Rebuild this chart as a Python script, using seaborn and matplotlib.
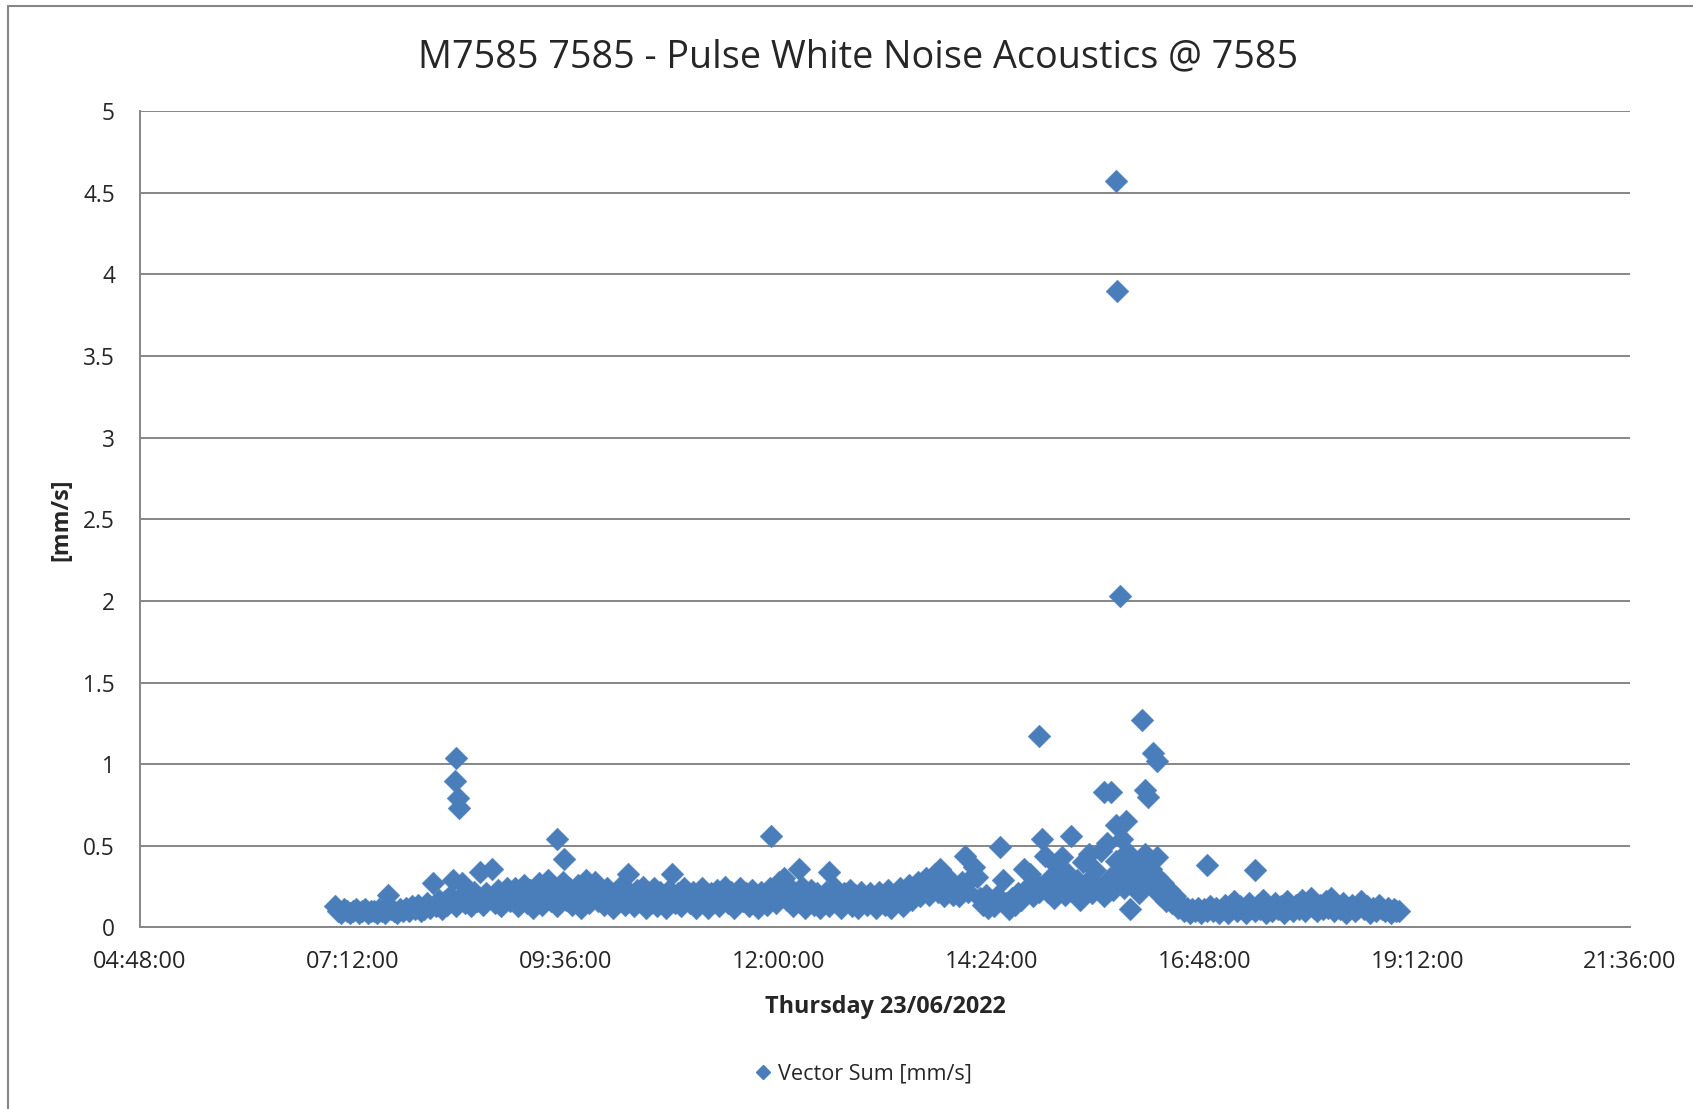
import matplotlib
matplotlib.use("Agg")
import matplotlib.pyplot as plt
import matplotlib.dates as mdates
from matplotlib.ticker import FixedLocator, MultipleLocator, FuncFormatter
from matplotlib.lines import Line2D
import seaborn as sns
import pandas as pd

DAY = "2022-06-23"

# logger readings every 2 minutes, 07:00 - 19:00 (one list per hour)
band_07 = [0.13, 0.10, 0.09, 0.11, 0.10, 0.09, 0.10, 0.11, 0.09, 0.10, 0.11, 0.09, 0.10, 0.10, 0.09,
           0.11, 0.10, 0.09, 0.20, 0.11, 0.10, 0.09, 0.11, 0.10, 0.12, 0.10, 0.13, 0.11, 0.14, 0.10]
band_08 = [0.11, 0.15, 0.12, 0.27, 0.13, 0.17, 0.11, 0.16, 0.14, 0.19, 0.29, 0.13, 0.18, 0.27, 0.15,
           0.20, 0.13, 0.22, 0.16, 0.34, 0.14, 0.21, 0.18, 0.36, 0.15, 0.23, 0.13, 0.19, 0.24, 0.16]
band_09 = [0.18, 0.24, 0.13, 0.21, 0.26, 0.15, 0.23, 0.12, 0.20, 0.27, 0.14, 0.22, 0.29, 0.16, 0.25,
           0.13, 0.21, 0.28, 0.17, 0.24, 0.14, 0.22, 0.26, 0.12, 0.20, 0.29, 0.15, 0.23, 0.28, 0.16]
band_10 = [0.21, 0.14, 0.24, 0.17, 0.12, 0.22, 0.16, 0.26, 0.14, 0.33, 0.20, 0.13, 0.23, 0.17, 0.25,
           0.12, 0.21, 0.15, 0.24, 0.13, 0.22, 0.17, 0.12, 0.23, 0.33, 0.15, 0.21, 0.13, 0.24, 0.17]
band_11 = [0.15, 0.22, 0.12, 0.20, 0.24, 0.16, 0.12, 0.21, 0.17, 0.23, 0.13, 0.20, 0.25, 0.15, 0.22,
           0.12, 0.19, 0.24, 0.16, 0.21, 0.13, 0.23, 0.17, 0.12, 0.22, 0.19, 0.14, 0.24, 0.21, 0.15]
band_12 = [0.28, 0.23, 0.30, 0.17, 0.24, 0.13, 0.21, 0.16, 0.25, 0.12, 0.20, 0.23, 0.14, 0.21, 0.12,
           0.19, 0.22, 0.13, 0.20, 0.24, 0.15, 0.12, 0.21, 0.16, 0.23, 0.13, 0.20, 0.12, 0.22, 0.16]
band_13 = [0.14, 0.21, 0.16, 0.12, 0.22, 0.17, 0.14, 0.23, 0.12, 0.20, 0.16, 0.24, 0.13, 0.21, 0.26,
           0.17, 0.23, 0.28, 0.19, 0.25, 0.30, 0.20, 0.27, 0.33, 0.22, 0.29, 0.19, 0.31, 0.24, 0.20]
band_14 = [0.24, 0.19, 0.28, 0.44, 0.22, 0.30, 0.37, 0.31, 0.18, 0.14, 0.20, 0.12, 0.16, 0.13, 0.19,
           0.49, 0.29, 0.15, 0.11, 0.18, 0.14, 0.21, 0.17, 0.36, 0.24, 0.33, 0.19, 0.27, 0.22, 0.54]
band_15 = [0.44, 0.22, 0.31, 0.18, 0.38, 0.26, 0.43, 0.20, 0.33, 0.56, 0.24, 0.29, 0.17, 0.40, 0.27,
           0.45, 0.21, 0.35, 0.25, 0.47, 0.19, 0.52, 0.30, 0.23, 0.41, 0.28, 0.36, 0.24, 0.46, 0.32]
band_16 = [0.27, 0.38, 0.21, 0.33, 0.45, 0.29, 0.36, 0.24, 0.31, 0.20, 0.27, 0.16, 0.23, 0.15, 0.19,
           0.12, 0.14, 0.10, 0.12, 0.09, 0.11, 0.10, 0.12, 0.09, 0.11, 0.10, 0.13, 0.10, 0.12, 0.09]
band_17 = [0.11, 0.14, 0.09, 0.12, 0.16, 0.10, 0.13, 0.11, 0.09, 0.15, 0.12, 0.10, 0.14, 0.11, 0.17,
           0.09, 0.12, 0.10, 0.15, 0.11, 0.13, 0.09, 0.16, 0.12, 0.10, 0.14, 0.11, 0.17, 0.10, 0.13]
band_18 = [0.18, 0.12, 0.10, 0.14, 0.11, 0.16, 0.12, 0.18, 0.10, 0.13, 0.11, 0.15, 0.09, 0.12, 0.14,
           0.10, 0.12, 0.16, 0.11, 0.13, 0.09, 0.12, 0.10, 0.14, 0.11, 0.10, 0.12, 0.09, 0.11, 0.10]
band_19 = [0.10]

# extra event readings in between
peak_times = ["08:21", "08:22", "08:23", "08:24", "09:30", "09:35", "11:55", "12:14", "12:34", "13:49",
              "14:56", "15:40", "15:45", "15:48", "15:48", "15:49", "15:51", "15:52", "15:55", "15:58",
              "16:06", "16:08", "16:08", "16:10", "16:13", "16:16", "16:16", "16:50", "17:22"]
peak_values = [0.90, 1.04, 0.79, 0.73, 0.54, 0.42, 0.56, 0.36, 0.34, 0.36,
               1.17, 0.83, 0.83, 4.57, 0.63, 3.90, 2.03, 0.54, 0.65, 0.11,
               1.27, 0.84, 0.44, 0.80, 1.07, 1.02, 0.43, 0.38, 0.35]

band_values = (band_07 + band_08 + band_09 + band_10 + band_11 + band_12 + band_13
               + band_14 + band_15 + band_16 + band_17 + band_18 + band_19)
band_times = pd.date_range(f"{DAY} 07:00", periods=len(band_values), freq="2min")
event_times = pd.to_datetime([f"{DAY} {t}" for t in peak_times])

df = pd.DataFrame({
    "time": list(band_times) + list(event_times),
    "value": band_values + peak_values,
})

BLUE = "#4A7EBB"
GREY = "#868686"

sns.set_style("white")
plt.rcParams["font.family"] = ["Open Sans", "DejaVu Sans"]

fig = plt.figure(figsize=(16.93, 11.09), dpi=100)
ax = fig.add_axes([0.0827, 0.1637, 0.8801, 0.736])

sns.scatterplot(data=df, x="time", y="value", marker="D", s=135, color=BLUE,
                edgecolor=BLUE, linewidth=0.3, ax=ax, legend=False, zorder=3)

ax.set_xlim(pd.Timestamp(f"{DAY} 04:48"), pd.Timestamp(f"{DAY} 21:36"))
ax.set_ylim(0, 5)

major = pd.date_range(f"{DAY} 04:48", f"{DAY} 21:36", freq="144min")
minor = pd.date_range(f"{DAY} 04:48", f"{DAY} 21:36", freq="1728s")
ax.xaxis.set_major_locator(FixedLocator(mdates.date2num(major)))
ax.xaxis.set_minor_locator(FixedLocator(mdates.date2num(minor)))
ax.xaxis.set_major_formatter(mdates.DateFormatter("%H:%M:%S"))
ax.yaxis.set_major_locator(MultipleLocator(0.5))
ax.yaxis.set_minor_locator(MultipleLocator(0.1))
ax.yaxis.set_major_formatter(FuncFormatter(lambda v, p: f"{v:g}"))

ax.grid(axis="y", which="major", color=GREY, lw=1.4)
ax.grid(axis="x", visible=False)
ax.set_axisbelow(True)
for side in ["top", "right"]:
    ax.spines[side].set_visible(False)
for side in ["left", "bottom"]:
    ax.spines[side].set_color(GREY)
    ax.spines[side].set_linewidth(1.4)

ax.tick_params(axis="x", which="major", direction="inout", length=13, width=1.4,
               color=GREY, labelsize=17, pad=10)
ax.tick_params(axis="x", which="minor", direction="out", length=4.5, width=1.2, color=GREY)
ax.tick_params(axis="y", which="major", direction="out", length=6, width=1.4,
               color=GREY, labelsize=16.3, pad=12)
ax.tick_params(axis="y", which="minor", direction="out", length=4, width=1.2, color=GREY)

ax.set_xlabel("Thursday 23/06/2022", fontsize=16.8, fontweight="bold", va="center")
ax.xaxis.set_label_coords(0.5, -0.097)
ax.set_ylabel("[mm/s]", fontsize=16.8, fontweight="bold", va="center")
ax.yaxis.set_label_coords(-0.0527, 0.5)

fig.suptitle("M7585 7585 - Pulse White Noise Acoustics @ 7585", x=0.507, y=0.948,
             va="center", fontsize=27.2)

handle = Line2D([], [], ls="none", marker="D", markersize=7.5, color=BLUE)
fig.legend([handle], ["Vector Sum [mm/s]"], loc="center", bbox_to_anchor=(0.509, 0.0316),
           frameon=False, fontsize=15.6, handletextpad=0.2, handlelength=1)

# chart frame
fig.add_artist(Line2D([8 / 1693, 8 / 1693], [0, 1 - 6 / 1109], transform=fig.transFigure, color=GREY, lw=1.5))
fig.add_artist(Line2D([8 / 1693, 1], [1 - 6 / 1109, 1 - 6 / 1109], transform=fig.transFigure, color=GREY, lw=1.5))

fig.savefig("out.png", dpi=100)
